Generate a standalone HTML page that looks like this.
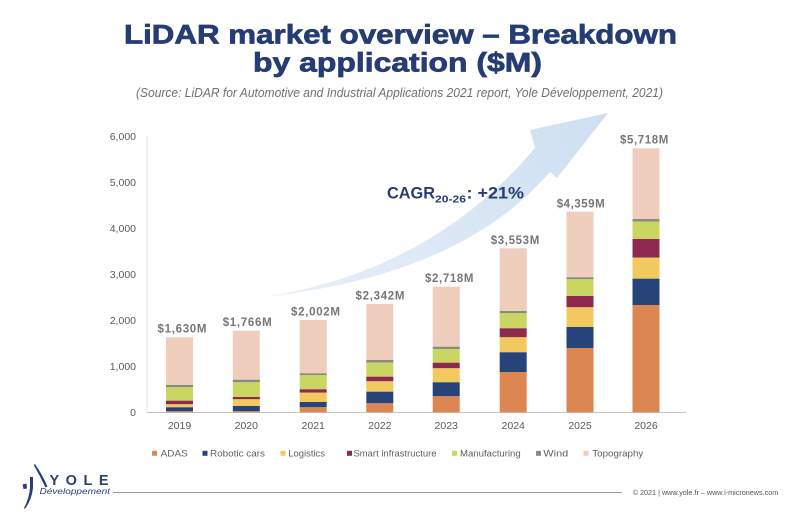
<!DOCTYPE html>
<html>
<head>
<meta charset="utf-8">
<style>
  html,body{margin:0;padding:0;background:#fff;}
  svg{display:block;}
  text{font-family:"Liberation Sans", sans-serif;}
</style>
</head>
<body>
<svg width="800" height="517" viewBox="0 0 800 517" xmlns="http://www.w3.org/2000/svg">
  <defs>
    <linearGradient id="ag" gradientUnits="userSpaceOnUse" x1="263" y1="297" x2="608" y2="113">
      <stop offset="0" stop-color="#e9f0f8"/>
      <stop offset="1" stop-color="#cddff1"/>
    </linearGradient>
  </defs>
  <rect width="800" height="517" fill="#fff"/>

  <!-- Title -->
  <text x="124" y="43.3" font-size="26.5" font-weight="bold" fill="#253d72" stroke="#253d72" stroke-width="0.7" textLength="553" lengthAdjust="spacingAndGlyphs">LiDAR market overview – Breakdown</text>
  <text x="253" y="71.7" font-size="26.5" font-weight="bold" fill="#253d72" stroke="#253d72" stroke-width="0.7" textLength="289" lengthAdjust="spacingAndGlyphs">by application ($M)</text>
  <text x="136" y="97" font-size="12.5" font-style="italic" fill="#707070" textLength="527" lengthAdjust="spacingAndGlyphs">(Source: LiDAR for Automotive and Industrial Applications 2021 report, Yole Développement, 2021)</text>

  <!-- Arrow -->
  <path d="M263,297 Q430,272 535,148 L530,130 L608,113 L557,178 L550,172 Q460,276 263,297 Z" fill="url(#ag)"/>

  <!-- Axes -->
  <line x1="147" y1="136" x2="147" y2="412.5" stroke="#e3e3e3" stroke-width="1"/>
  <line x1="147" y1="412.5" x2="686" y2="412.5" stroke="#c4c4c4" stroke-width="1"/>

  <!-- Y labels -->
  <g font-size="10.5" fill="#5a5a5a" text-anchor="end">
    <text x="136" y="415.8">0</text>
    <text x="136" y="369.8">1,000</text>
    <text x="136" y="323.8">2,000</text>
    <text x="136" y="277.8">3,000</text>
    <text x="136" y="231.8">4,000</text>
    <text x="136" y="185.8">5,000</text>
    <text x="136" y="139.8">6,000</text>
  </g>

  <!-- X labels -->
  <g font-size="10.5" fill="#5a5a5a" text-anchor="middle">
    <text x="179.5" y="429">2019</text>
    <text x="246.3" y="429">2020</text>
    <text x="313.2" y="429">2021</text>
    <text x="379.8" y="429">2022</text>
    <text x="446.2" y="429">2023</text>
    <text x="513.2" y="429">2024</text>
    <text x="580" y="429">2025</text>
    <text x="646" y="429">2026</text>
  </g>

  <!-- Bars -->
  <g transform="translate(166,0)">
    <rect x="0" y="337.3" width="27" height="47.7" fill="#f0cebd"/>
    <rect x="0" y="385" width="27" height="2.3" fill="#8b8b7d"/>
    <rect x="0" y="387.3" width="27" height="13.4" fill="#c9d662"/>
    <rect x="0" y="400.7" width="27" height="3.6" fill="#8e2a4f"/>
    <rect x="0" y="404.3" width="27" height="3" fill="#f2c95f"/>
    <rect x="0" y="407.3" width="27" height="4" fill="#26437a"/>
    <rect x="0" y="411.3" width="27" height="1" fill="#dc8651"/>
  </g>
  <g transform="translate(232.8,0)">
    <rect x="0" y="330.7" width="27" height="49" fill="#f0cebd"/>
    <rect x="0" y="379.7" width="27" height="2.6" fill="#8b8b7d"/>
    <rect x="0" y="382.3" width="27" height="14.7" fill="#c9d662"/>
    <rect x="0" y="397" width="27" height="2.3" fill="#8e2a4f"/>
    <rect x="0" y="399.3" width="27" height="6.7" fill="#f2c95f"/>
    <rect x="0" y="406" width="27" height="5.3" fill="#26437a"/>
    <rect x="0" y="411.3" width="27" height="1" fill="#dc8651"/>
  </g>
  <g transform="translate(299.7,0)">
    <rect x="0" y="320" width="27" height="53.3" fill="#f0cebd"/>
    <rect x="0" y="373.3" width="27" height="1.7" fill="#8b8b7d"/>
    <rect x="0" y="375" width="27" height="14.3" fill="#c9d662"/>
    <rect x="0" y="389.3" width="27" height="3.4" fill="#8e2a4f"/>
    <rect x="0" y="392.7" width="27" height="9.3" fill="#f2c95f"/>
    <rect x="0" y="402" width="27" height="5.3" fill="#26437a"/>
    <rect x="0" y="407.3" width="27" height="5" fill="#dc8651"/>
  </g>
  <g transform="translate(366.3,0)">
    <rect x="0" y="304" width="27" height="56" fill="#f0cebd"/>
    <rect x="0" y="360" width="27" height="2.7" fill="#8b8b7d"/>
    <rect x="0" y="362.7" width="27" height="14" fill="#c9d662"/>
    <rect x="0" y="376.7" width="27" height="4.6" fill="#8e2a4f"/>
    <rect x="0" y="381.3" width="27" height="10.4" fill="#f2c95f"/>
    <rect x="0" y="391.7" width="27" height="11.6" fill="#26437a"/>
    <rect x="0" y="403.3" width="27" height="9" fill="#dc8651"/>
  </g>
  <g transform="translate(432.7,0)">
    <rect x="0" y="286.7" width="27" height="60" fill="#f0cebd"/>
    <rect x="0" y="346.7" width="27" height="2.3" fill="#8b8b7d"/>
    <rect x="0" y="349" width="27" height="13.7" fill="#c9d662"/>
    <rect x="0" y="362.7" width="27" height="5.6" fill="#8e2a4f"/>
    <rect x="0" y="368.3" width="27" height="14" fill="#f2c95f"/>
    <rect x="0" y="382.3" width="27" height="14" fill="#26437a"/>
    <rect x="0" y="396.3" width="27" height="16" fill="#dc8651"/>
  </g>
  <g transform="translate(499.7,0)">
    <rect x="0" y="248.3" width="27" height="62.7" fill="#f0cebd"/>
    <rect x="0" y="311" width="27" height="2.3" fill="#8b8b7d"/>
    <rect x="0" y="313.3" width="27" height="15" fill="#c9d662"/>
    <rect x="0" y="328.3" width="27" height="9" fill="#8e2a4f"/>
    <rect x="0" y="337.3" width="27" height="15" fill="#f2c95f"/>
    <rect x="0" y="352.3" width="27" height="19.7" fill="#26437a"/>
    <rect x="0" y="372" width="27" height="40.3" fill="#dc8651"/>
  </g>
  <g transform="translate(566.5,0)">
    <rect x="0" y="211.7" width="27" height="65.6" fill="#f0cebd"/>
    <rect x="0" y="277.3" width="27" height="2" fill="#8b8b7d"/>
    <rect x="0" y="279.3" width="27" height="16.7" fill="#c9d662"/>
    <rect x="0" y="296" width="27" height="11.3" fill="#8e2a4f"/>
    <rect x="0" y="307.3" width="27" height="19.7" fill="#f2c95f"/>
    <rect x="0" y="327" width="27" height="21" fill="#26437a"/>
    <rect x="0" y="348" width="27" height="64.3" fill="#dc8651"/>
  </g>
  <g transform="translate(632.5,0)">
    <rect x="0" y="148.3" width="27" height="70.7" fill="#f0cebd"/>
    <rect x="0" y="219" width="27" height="2.7" fill="#8b8b7d"/>
    <rect x="0" y="221.7" width="27" height="17.3" fill="#c9d662"/>
    <rect x="0" y="239" width="27" height="18.7" fill="#8e2a4f"/>
    <rect x="0" y="257.7" width="27" height="21" fill="#f2c95f"/>
    <rect x="0" y="278.7" width="27" height="26.3" fill="#26437a"/>
    <rect x="0" y="305" width="27" height="107.3" fill="#dc8651"/>
  </g>

  <!-- Value labels -->
  <g font-size="11.5" font-weight="bold" fill="#767676">
    <text x="157.5" y="332.5" textLength="49" lengthAdjust="spacing">$1,630M</text>
    <text x="222.7" y="326" textLength="49" lengthAdjust="spacing">$1,766M</text>
    <text x="291" y="315.5" textLength="49" lengthAdjust="spacing">$2,002M</text>
    <text x="355.5" y="299.5" textLength="49" lengthAdjust="spacing">$2,342M</text>
    <text x="425" y="282" textLength="48.5" lengthAdjust="spacing">$2,718M</text>
    <text x="490.7" y="243.8" textLength="48.6" lengthAdjust="spacing">$3,553M</text>
    <text x="556.7" y="207.3" textLength="48" lengthAdjust="spacing">$4,359M</text>
    <text x="620" y="143.5" textLength="48.3" lengthAdjust="spacing">$5,718M</text>
  </g>

  <!-- CAGR -->
  <g fill="#253d72" font-weight="bold">
    <text x="387" y="198.3" font-size="17" textLength="48" lengthAdjust="spacingAndGlyphs">CAGR</text>
    <text x="435" y="202.7" font-size="10" textLength="31" lengthAdjust="spacingAndGlyphs">20-26</text>
    <text x="466.5" y="198.3" font-size="17" textLength="57.5" lengthAdjust="spacingAndGlyphs">: +21%</text>
  </g>

  <!-- Legend -->
  <g font-size="9.5" fill="#5e5e5e">
    <rect x="152" y="450.8" width="5" height="5" fill="#dc8651"/>
    <text x="160.7" y="456.7" textLength="27" lengthAdjust="spacingAndGlyphs">ADAS</text>
    <rect x="202.5" y="450.8" width="5" height="5" fill="#26437a"/>
    <text x="210" y="456.7" textLength="55" lengthAdjust="spacingAndGlyphs">Robotic cars</text>
    <rect x="280.5" y="450.8" width="5" height="5" fill="#f2c95f"/>
    <text x="288.3" y="456.7" textLength="36.7" lengthAdjust="spacingAndGlyphs">Logistics</text>
    <rect x="347" y="450.8" width="5" height="5" fill="#8e2a4f"/>
    <text x="353.5" y="456.7" textLength="83" lengthAdjust="spacingAndGlyphs">Smart infrastructure</text>
    <rect x="452" y="450.8" width="5" height="5" fill="#c9d662"/>
    <text x="460" y="456.7" textLength="60.7" lengthAdjust="spacingAndGlyphs">Manufacturing</text>
    <rect x="536" y="450.8" width="5" height="5" fill="#8b8b7d"/>
    <text x="543.3" y="456.7" textLength="25" lengthAdjust="spacingAndGlyphs">Wind</text>
    <rect x="583.5" y="450.8" width="5" height="5" fill="#f0cebd"/>
    <text x="592.3" y="456.7" textLength="51" lengthAdjust="spacingAndGlyphs">Topography</text>
  </g>

  <!-- Footer -->
  <line x1="113" y1="492.5" x2="622" y2="492.5" stroke="#9a9a9a" stroke-width="1"/>
  <text x="632.7" y="495" font-size="7.5" fill="#555" textLength="145.6" lengthAdjust="spacingAndGlyphs">© 2021 | www.yole.fr – www.i-micronews.com</text>

  <!-- Logo -->
  <g fill="#2a3f78">
    <path d="M22.5,484.5 L26.5,483.5 L27,488.5 L23.5,489 Z"/>
    <rect x="30" y="477" width="3" height="11.5"/>
    <path d="M35,464 Q42,474 47.5,486.5 L45.5,487.5 Q40,476 33.8,465 Z"/>
    <path d="M33,488 Q32,499 25,509 L24,508 Q29,499 30,488 Z"/>
    <text x="49.5" y="485" font-size="14.5" font-weight="bold" textLength="59" lengthAdjust="spacing">YOLE</text>
    <text x="39.5" y="494" font-size="8" font-style="italic" textLength="70.5" lengthAdjust="spacingAndGlyphs">Développement</text>
  </g>
</svg>
</body>
</html>
